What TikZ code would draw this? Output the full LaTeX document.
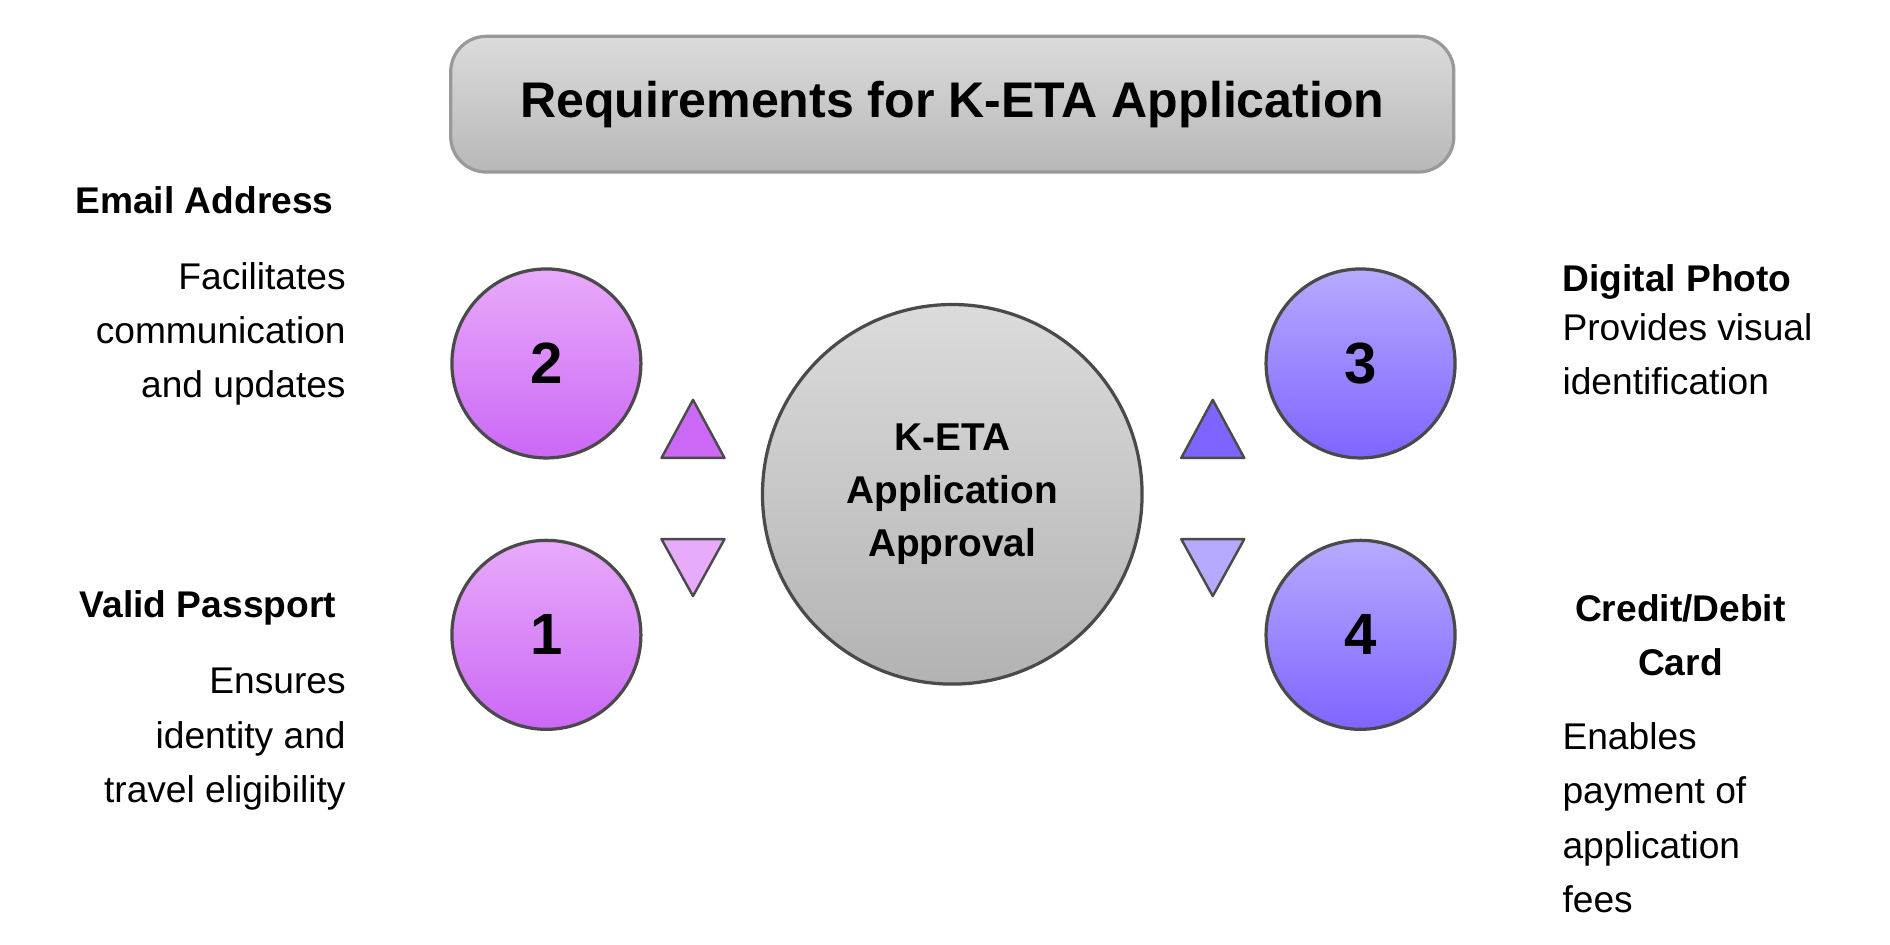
\documentclass[tikz,border=0pt]{standalone}
\usepackage{fontspec}
\setmainfont{Liberation Sans}
\definecolor{pinkTop}{HTML}{E8AAFA}
\definecolor{pinkBot}{HTML}{CB68F6}
\definecolor{blueTop}{HTML}{B6AAFF}
\definecolor{blueBot}{HTML}{8064FF}
\definecolor{edge}{HTML}{4A4A4A}
\begin{document}
\begin{tikzpicture}[x=0.75pt, y=-0.75pt,
    numcircle/.style={circle, draw=edge, line width=2pt, minimum size=117pt, inner sep=0pt, font=\fontsize{36}{40}\selectfont\bfseries},
    pinkball/.style={numcircle, top color=pinkTop, bottom color=pinkBot},
    blueball/.style={numcircle, top color=blueTop, bottom color=blueBot},
    heading/.style={font=\fontsize{23}{27}\selectfont\bfseries},
    detail/.style={font=\fontsize{23}{33.5}\selectfont, align=#1},
    tri/.style={draw=edge, line width=1.5pt, line join=round}]
    \useasboundingbox (0,0) rectangle (1560,780);

    % Title
    \node[draw=black!40, line width=2pt, rounded corners=22pt, top color=black!14, bottom color=black!28,
          minimum width=621pt, minimum height=84pt, font=\fontsize{31}{35}\selectfont\bfseries] (title) at (786,86)
          {Requirements for K-ETA Application};

    % Centre
    \node[circle, draw=edge, line width=2pt, minimum size=235pt, top color=black!14, bottom color=black!30,
          align=center, font=\fontsize{24}{33}\selectfont\bfseries] (approval) at (786,408)
          {K-ETA\\Application\\Approval};

    % Numbered steps
    \node[pinkball] (two) at (451,300) {2};
    \node[pinkball] (one) at (451,524) {1};
    \node[blueball] (three) at (1123,300) {3};
    \node[blueball] (four) at (1123,524) {4};

    % Triangles
    \fill[tri, fill=pinkBot] (572,330) -- (598,378) -- (546,378) -- cycle;
    \fill[tri, fill=pinkTop] (546,445) -- (598,445) -- (572,492) -- cycle;
    \fill[tri, fill=blueBot] (1001,330) -- (1027,378) -- (975,378) -- cycle;
    \fill[tri, fill=blueTop] (975,445) -- (1027,445) -- (1001,492) -- cycle;

    % Left texts
    \node[heading, anchor=east] (emailhead) at (280,165) {Email Address};
    \node[detail=right, anchor=north east] (emailtext) at (290,212) {Facilitates\\communication\\and updates};
    \node[heading, anchor=east] (passhead) at (282,502) {Valid Passport};
    \node[detail=right, anchor=north east] (passtext) at (290,547) {Ensures\\identity and\\travel eligibility};

    % Right texts
    \node[heading, anchor=west] (photohead) at (1285,233) {Digital Photo};
    \node[detail=left, anchor=north west] (phototext) at (1285,254) {Provides visual\\identification};
    \node[heading, align=center, font=\fontsize{23}{33.5}\selectfont\bfseries] (cardhead) at (1387,524) {Credit/Debit\\Card};
    \node[detail=left, anchor=north west] (cardtext) at (1285,592) {Enables\\payment of\\application\\fees};
\end{tikzpicture}
\end{document}
